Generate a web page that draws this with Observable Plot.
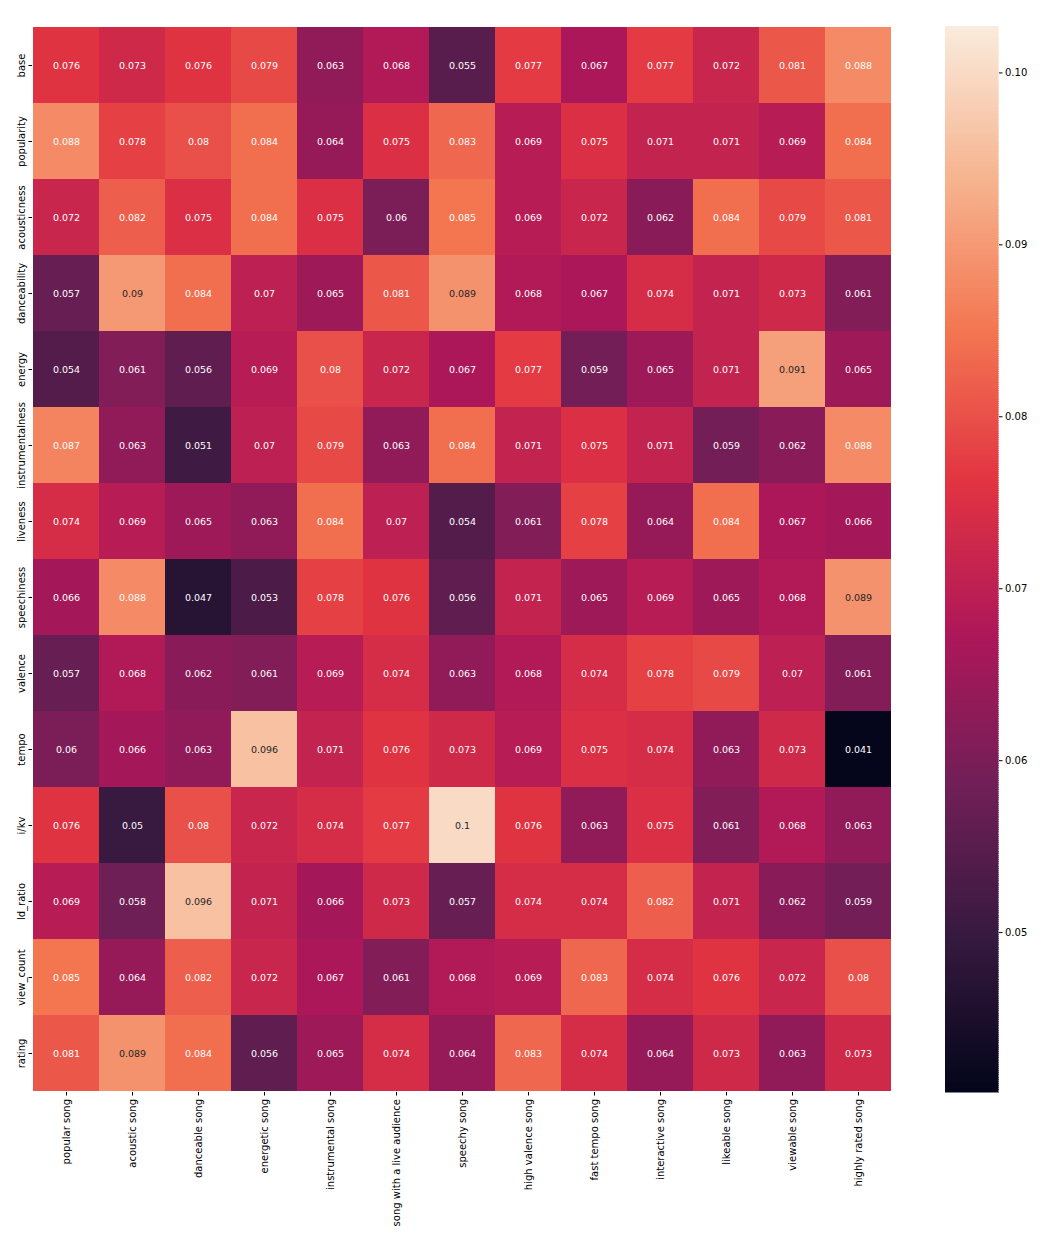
<!DOCTYPE html>
<html><head><meta charset="utf-8">
<script src="https://cdn.jsdelivr.net/npm/d3@7"></script>
<script src="https://cdn.jsdelivr.net/npm/@observablehq/plot@0.6"></script>
<style>
body{margin:0;background:#fff}
#wrap{position:relative;width:1054px;height:1238px}
#wrap svg{position:absolute;left:0;top:0}
</style></head><body><div id="wrap"></div>
<script>
const rowLabels = ["base","popularity","acousticness","danceability","energy","instrumentalness","liveness","speechiness","valence","tempo","i/kv","ld_ratio","view_count","rating"];
const colLabels = ["popular song","acoustic song","danceable song","energetic song","instrumental song","song with a live audience","speechy song","high valence song","fast tempo song","interactive song","likeable song","viewable song","highly rated song"];

const base             = [0.076,0.073,0.076,0.079,0.063,0.068,0.055,0.077,0.067,0.077,0.072,0.081,0.088];
const popularity       = [0.088,0.078,0.08,0.084,0.064,0.075,0.083,0.069,0.075,0.071,0.071,0.069,0.084];
const acousticness     = [0.072,0.082,0.075,0.084,0.075,0.06,0.085,0.069,0.072,0.062,0.084,0.079,0.081];
const danceability     = [0.057,0.09,0.084,0.07,0.065,0.081,0.089,0.068,0.067,0.074,0.071,0.073,0.061];
const energy           = [0.054,0.061,0.056,0.069,0.08,0.072,0.067,0.077,0.059,0.065,0.071,0.091,0.065];
const instrumentalness = [0.087,0.063,0.051,0.07,0.079,0.063,0.084,0.071,0.075,0.071,0.059,0.062,0.088];
const liveness         = [0.074,0.069,0.065,0.063,0.084,0.07,0.054,0.061,0.078,0.064,0.084,0.067,0.066];
const speechiness      = [0.066,0.088,0.047,0.053,0.078,0.076,0.056,0.071,0.065,0.069,0.065,0.068,0.089];
const valence          = [0.057,0.068,0.062,0.061,0.069,0.074,0.063,0.068,0.074,0.078,0.079,0.07,0.061];
const tempo            = [0.06,0.066,0.063,0.096,0.071,0.076,0.073,0.069,0.075,0.074,0.063,0.073,0.041];
const ikv              = [0.076,0.05,0.08,0.072,0.074,0.077,0.1,0.076,0.063,0.075,0.061,0.068,0.063];
const ldRatio          = [0.069,0.058,0.096,0.071,0.066,0.073,0.057,0.074,0.074,0.082,0.071,0.062,0.059];
const viewCount        = [0.085,0.064,0.082,0.072,0.067,0.061,0.068,0.069,0.083,0.074,0.076,0.072,0.08];
const rating           = [0.081,0.089,0.084,0.056,0.065,0.074,0.064,0.083,0.074,0.064,0.073,0.063,0.073];

const colorbarTicks = [0.05,0.06,0.07,0.08,0.09,0.10];
const colorDomain = [0.0407, 0.1027];

const series = [base,popularity,acousticness,danceability,energy,instrumentalness,liveness,speechiness,valence,tempo,ikv,ldRatio,viewCount,rating];
const table = [];
series.forEach((vals, i) => vals.forEach((v, j) => table.push({row: rowLabels[i], col: colLabels[j], v})));

// approximation of seaborn "rocket"
const rocketStops = ["#03051a","#35193e","#701f57","#ad1759","#e13342","#f37651","#f6b48f","#faebdd"];
const rocket = d3.piecewise(d3.interpolateRgb, rocketStops);

function lum(c) {
  const f = x => { x /= 255; return x <= 0.03928 ? x / 12.92 : Math.pow((x + 0.055) / 1.055, 2.4); };
  const r = d3.rgb(c);
  return 0.2126 * f(r.r) + 0.7152 * f(r.g) + 0.0722 * f(r.b);
}
const textColor = d => {
  const t = (d.v - colorDomain[0]) / (colorDomain[1] - colorDomain[0]);
  return lum(rocket(Math.max(0, Math.min(1, t)))) > 0.408 ? "#262626" : "#ffffff";
};

const font = {fontFamily: "'DejaVu Sans', sans-serif", fontSize: "10px", background: "transparent", color: "#000"};

const main = Plot.plot({
  width: 1054, height: 1238,
  marginLeft: 32, marginRight: 163, marginTop: 26, marginBottom: 146,
  style: font,
  x: {domain: colLabels, padding: 0, label: null},
  y: {domain: rowLabels, padding: 0, label: null},
  color: {type: "linear", domain: colorDomain, interpolate: rocket},
  marks: [
    Plot.cell(table, {x: "col", y: "row", fill: "v", inset: 0}),
    Plot.text(table, {x: "col", y: "row", text: d => String(d.v), fill: textColor, fontSize: 9.5}),
    Plot.axisX({tickRotate: -90, tickSize: 3.5, tickPadding: 3, label: null, fontSize: 10}),
    Plot.axisY({tickRotate: -90, tickSize: 3.5, tickPadding: 4, label: null, fontSize: 10})
  ]
});

const nSteps = 500;
const step = (colorDomain[1] - colorDomain[0]) / nSteps;
const bar = d3.range(nSteps).map(i => ({y1: colorDomain[0] + i * step, y2: colorDomain[0] + (i + 1) * step, v: colorDomain[0] + (i + 0.5) * step}));

const cbar = Plot.plot({
  width: 1054, height: 1238,
  marginLeft: 945, marginRight: 56, marginTop: 26, marginBottom: 146,
  style: font,
  x: {domain: [0, 1], axis: null},
  y: {domain: colorDomain, label: null, axis: null},
  color: {type: "linear", domain: colorDomain, interpolate: rocket},
  marks: [
    Plot.rect(bar, {x1: 0, x2: 1, y1: "y1", y2: "y2", fill: "v", shapeRendering: "crispEdges", stroke: "v", strokeWidth: 0.5}),
    Plot.axisY({anchor: "right", ticks: colorbarTicks, tickFormat: d3.format(".2f"), tickSize: 3.5, tickPadding: 3, label: null, fontSize: 10})
  ]
});

document.getElementById("wrap").append(main, cbar);
</script></body></html>
